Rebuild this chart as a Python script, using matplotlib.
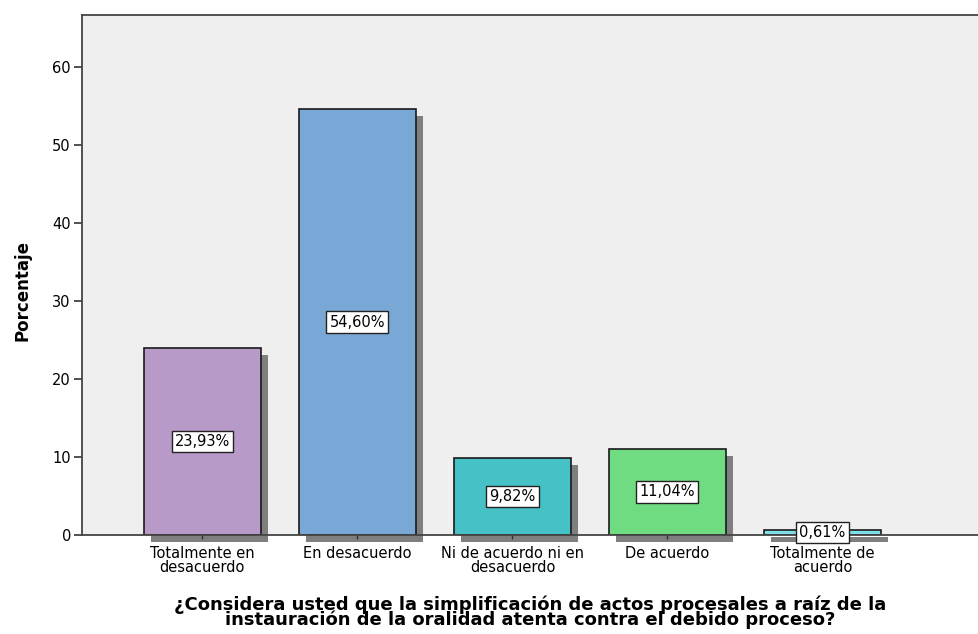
import matplotlib
matplotlib.use("Agg")
import matplotlib.pyplot as plt
from matplotlib.patches import Rectangle

categories = ["Totalmente en\ndesacuerdo", "En desacuerdo", "Ni de acuerdo ni en\ndesacuerdo",
              "De acuerdo", "Totalmente de\nacuerdo"]
values = [23.93, 54.60, 9.82, 11.04, 0.61]
labels = ["23,93%", "54,60%", "9,82%", "11,04%", "0,61%"]
colors = ["#b89ac8", "#79a8d6", "#46c1c6", "#70dc82", "#7fdfe6"]
yticks = [0, 10, 20, 30, 40, 50, 60]

plt.rcParams['font.family'] = ['DejaVu Sans']

fig = plt.figure(figsize=(9.79, 6.34), dpi=100)
ax = fig.add_axes([82/979, 99/634, 1 - 82/979, (535-15)/634])
ax.set_facecolor("#efefef")

width = 0.755
x = list(range(len(values)))
dx = 7/155
dy = 7/7.8
for xi, v in zip(x, values):
    r = Rectangle((xi - width/2 + dx, -dy), width, v, facecolor="#7f7f7f",
                  edgecolor="none", zorder=1, clip_on=False)
    ax.add_patch(r)
ax.bar(x, values, width=width, color=colors, edgecolor="#1a1a1a", linewidth=1.2, zorder=2)

for xi, v, lab in zip(x, values, labels):
    ax.text(xi, v/2 if v > 2 else 0.3, lab, ha="center", va="center", fontsize=10.5, zorder=4,
            bbox=dict(boxstyle="square,pad=0.22", facecolor="white", edgecolor="#222222", linewidth=1.0))

ax.set_xlim(-0.777, 5.01)
ax.set_ylim(0, 66.7)
ax.set_yticks(yticks)
ax.set_xticks(x)
ax.set_xticklabels(categories, fontsize=10.5, linespacing=0.9)
ax.tick_params(axis="y", length=6, width=1.2, labelsize=10.5, color="#333333", pad=2)
ax.tick_params(axis="x", length=3, width=1, color="#333333", pad=5)

for s in ["left", "top", "bottom"]:
    ax.spines[s].set_color("#444444")
    ax.spines[s].set_linewidth(1.3)
ax.spines["right"].set_visible(False)
ax.spines["bottom"].set_zorder(3)

ax.set_ylabel("Porcentaje", fontsize=12, fontweight="bold")
ax.yaxis.set_label_coords(-0.056, 0.47)
ax.set_xlabel("¿Considera usted que la simplificación de actos procesales a raíz de la\n"
              "instauración de la oralidad atenta contra el debido proceso?",
              fontsize=13, fontweight="bold", linespacing=0.76)
ax.xaxis.set_label_coords(0.5, -0.117)

fig.savefig("out.png", dpi=100)
